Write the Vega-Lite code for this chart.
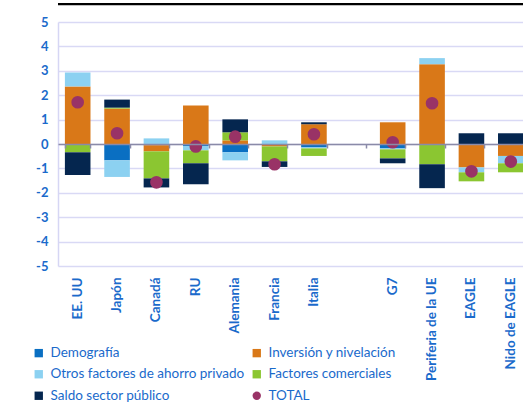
{
  "$schema": "https://vega.github.io/schema/vega-lite/v6.json",
  "width": 465,
  "height": 244,
  "autosize": {"type": "none"},
  "padding": {"left": 58, "top": 22, "right": 0, "bottom": 136},
  "background": "white",
  "config": {
    "font": "Lato",
    "view": {"stroke": null},
    "axis": {"labelFont": "Lato", "labelColor": "#1a6acb", "titleColor": "#1a6acb"},
    "axisY": {
      "title": null,
      "domain": true, "domainColor": "#d6d6f4", "domainWidth": 1.5,
      "ticks": false, "labelPadding": 10, "labelFontSize": 13, "labelFontWeight": "bold",
      "labelColor": "#1a6acb", "labelOverlap": false,
      "grid": true, "gridColor": "#d9d9f5", "gridWidth": 1.5
    },
    "legend": {"labelFont": "Lato"}
  },
  "datasets": {
    "componentes": [
      {"pais": "EE. UU", "componente": "Inversión y nivelación", "valor": 2.36},
      {"pais": "EE. UU", "componente": "Otros factores de ahorro privado", "valor": 0.57},
      {"pais": "EE. UU", "componente": "Factores comerciales", "valor": -0.34},
      {"pais": "EE. UU", "componente": "Saldo sector público", "valor": -0.93},
      {"pais": "Japón", "componente": "Demografía", "valor": -0.67},
      {"pais": "Japón", "componente": "Inversión y nivelación", "valor": 1.45},
      {"pais": "Japón", "componente": "Otros factores de ahorro privado", "valor": -0.68},
      {"pais": "Japón", "componente": "Factores comerciales", "valor": 0.04},
      {"pais": "Japón", "componente": "Saldo sector público", "valor": 0.33},
      {"pais": "Canadá", "componente": "Demografía", "valor": -0.05},
      {"pais": "Canadá", "componente": "Inversión y nivelación", "valor": -0.25},
      {"pais": "Canadá", "componente": "Otros factores de ahorro privado", "valor": 0.23},
      {"pais": "Canadá", "componente": "Factores comerciales", "valor": -1.11},
      {"pais": "Canadá", "componente": "Saldo sector público", "valor": -0.37},
      {"pais": "RU", "componente": "Demografía", "valor": -0.08},
      {"pais": "RU", "componente": "Inversión y nivelación", "valor": 1.58},
      {"pais": "RU", "componente": "Otros factores de ahorro privado", "valor": -0.18},
      {"pais": "RU", "componente": "Factores comerciales", "valor": -0.53},
      {"pais": "RU", "componente": "Saldo sector público", "valor": -0.86},
      {"pais": "Alemania", "componente": "Demografía", "valor": -0.34},
      {"pais": "Alemania", "componente": "Inversión y nivelación", "valor": 0.15},
      {"pais": "Alemania", "componente": "Otros factores de ahorro privado", "valor": -0.33},
      {"pais": "Alemania", "componente": "Factores comerciales", "valor": 0.33},
      {"pais": "Alemania", "componente": "Saldo sector público", "valor": 0.53},
      {"pais": "Francia", "componente": "Inversión y nivelación", "valor": -0.10},
      {"pais": "Francia", "componente": "Otros factores de ahorro privado", "valor": 0.15},
      {"pais": "Francia", "componente": "Factores comerciales", "valor": -0.61},
      {"pais": "Francia", "componente": "Saldo sector público", "valor": -0.23},
      {"pais": "Italia", "componente": "Demografía", "valor": -0.14},
      {"pais": "Italia", "componente": "Inversión y nivelación", "valor": 0.81},
      {"pais": "Italia", "componente": "Otros factores de ahorro privado", "valor": -0.04},
      {"pais": "Italia", "componente": "Factores comerciales", "valor": -0.31},
      {"pais": "Italia", "componente": "Saldo sector público", "valor": 0.08},
      {"pais": "G7", "componente": "Demografía", "valor": -0.18},
      {"pais": "G7", "componente": "Inversión y nivelación", "valor": 0.89},
      {"pais": "G7", "componente": "Otros factores de ahorro privado", "valor": -0.04},
      {"pais": "G7", "componente": "Factores comerciales", "valor": -0.37},
      {"pais": "G7", "componente": "Saldo sector público", "valor": -0.20},
      {"pais": "Periferia de la UE", "componente": "Inversión y nivelación", "valor": 3.27},
      {"pais": "Periferia de la UE", "componente": "Otros factores de ahorro privado", "valor": 0.25},
      {"pais": "Periferia de la UE", "componente": "Factores comerciales", "valor": -0.83},
      {"pais": "Periferia de la UE", "componente": "Saldo sector público", "valor": -0.98},
      {"pais": "EAGLE", "componente": "Inversión y nivelación", "valor": -0.96},
      {"pais": "EAGLE", "componente": "Otros factores de ahorro privado", "valor": -0.20},
      {"pais": "EAGLE", "componente": "Factores comerciales", "valor": -0.37},
      {"pais": "EAGLE", "componente": "Saldo sector público", "valor": 0.44},
      {"pais": "Nido de EAGLE", "componente": "Inversión y nivelación", "valor": -0.49},
      {"pais": "Nido de EAGLE", "componente": "Otros factores de ahorro privado", "valor": -0.30},
      {"pais": "Nido de EAGLE", "componente": "Factores comerciales", "valor": -0.37},
      {"pais": "Nido de EAGLE", "componente": "Saldo sector público", "valor": 0.44}
    ],
    "totales": [
      {"pais": "EE. UU", "componente": "TOTAL", "valor": 1.71},
      {"pais": "Japón", "componente": "TOTAL", "valor": 0.44},
      {"pais": "Canadá", "componente": "TOTAL", "valor": -1.57},
      {"pais": "RU", "componente": "TOTAL", "valor": -0.10},
      {"pais": "Alemania", "componente": "TOTAL", "valor": 0.30},
      {"pais": "Francia", "componente": "TOTAL", "valor": -0.83},
      {"pais": "Italia", "componente": "TOTAL", "valor": 0.40},
      {"pais": "G7", "componente": "TOTAL", "valor": 0.07},
      {"pais": "Periferia de la UE", "componente": "TOTAL", "valor": 1.67},
      {"pais": "EAGLE", "componente": "TOTAL", "valor": -1.12},
      {"pais": "Nido de EAGLE", "componente": "TOTAL", "valor": -0.72}
    ],
    "marco": [{"borde": 5.73}]
  },
  "resolve": {"axis": {"x": "independent"}},
  "layer": [
    {
      "data": {"name": "componentes"},
      "transform": [
        {"calculate": "indexof(['Demografía','Inversión y nivelación','Otros factores de ahorro privado','Factores comerciales','Saldo sector público'], datum.componente)", "as": "orden"}
      ],
      "mark": {"type": "bar"},
      "encoding": {
        "x": {
          "field": "pais", "type": "nominal",
          "scale": {
            "domain": ["EE. UU", "Japón", "Canadá", "RU", "Alemania", "Francia", "Italia", " ", "G7", "Periferia de la UE", "EAGLE", "Nido de EAGLE"],
            "range": [0, 472.5],
            "paddingInner": 0.35, "paddingOuter": 0.175
          },
          "axis": {
            "orient": "bottom", "title": null, "domain": false, "ticks": false, "grid": false,
            "labelAngle": -90, "labelPadding": 11, "labelFontSize": 13.5, "labelFontWeight": "bold",
            "labelColor": "#1a6acb"
          }
        },
        "y": {
          "field": "valor", "type": "quantitative", "stack": "zero",
          "scale": {"domain": [-5, 5], "nice": false},
          "axis": {"values": [-5, -4, -3, -2, -1, 0, 1, 2, 3, 4, 5], "labelExpr": "'' + datum.value", "tickCount": 30}
        },
        "color": {
          "field": "componente", "type": "nominal",
          "scale": {
            "domain": ["Demografía", "Inversión y nivelación", "Otros factores de ahorro privado", "Factores comerciales", "Saldo sector público", "TOTAL"],
            "range": ["#0a6fc2", "#d97818", "#8cd1f1", "#8bc631", "#05264f", "#993366"]
          },
          "legend": {
            "title": null, "orient": "none", "legendX": -26, "legendY": 324,
            "direction": "horizontal", "columns": 2, "padding": 0,
            "columnPadding": 5, "rowPadding": 6.5,
            "labelFontSize": 13.5, "labelColor": "#1a6acb", "labelOffset": 5,
            "symbolSize": 70, "symbolStrokeWidth": 0, "symbolOffset": 0,
            "labelLimit": 400,
            "encode": {"symbols": {"update": {"shape": {"signal": "datum.value === 'TOTAL' ? 'circle' : 'square'"}, "strokeWidth": {"value": 0}}}}
          }
        },
        "order": {"field": "orden", "type": "quantitative"}
      }
    },
    {
      "data": {"name": "totales"},
      "mark": {"type": "point", "filled": true, "opacity": 1, "size": 160},
      "encoding": {
        "x": {
          "field": "pais", "type": "nominal",
          "axis": {
            "orient": "bottom", "offset": -122, "title": null, "labels": false, "grid": false,
            "ticks": true, "tickBand": "extent", "tickSize": 4, "tickColor": "#8a8aa8", "tickWidth": 1.5,
            "domain": true, "domainColor": "#8a8aa8", "domainWidth": 1.5, "zindex": 1
          }
        },
        "y": {
          "field": "valor", "type": "quantitative",
          "axis": {"values": [-5, -4, -3, -2, -1, 0, 1, 2, 3, 4, 5], "labelExpr": "'' + datum.value", "tickCount": 30}
        },
        "color": {"field": "componente", "type": "nominal"}
      }
    },
    {
      "data": {"name": "marco"},
      "mark": {"type": "rule", "color": "#000000", "strokeWidth": 2.2},
      "encoding": {
        "y": {
          "field": "borde", "type": "quantitative",
          "axis": {"values": [-5, -4, -3, -2, -1, 0, 1, 2, 3, 4, 5], "labelExpr": "'' + datum.value", "tickCount": 30}
        }
      }
    }
  ]
}
